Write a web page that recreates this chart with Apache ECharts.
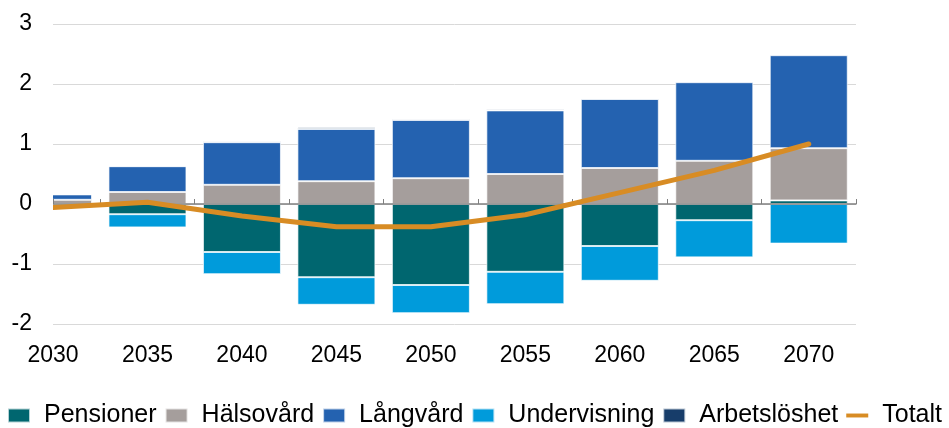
<!DOCTYPE html>
<html>
<head>
<meta charset="utf-8">
<script src="https://cdn.jsdelivr.net/npm/echarts@6/dist/echarts.min.js"></script>
<style>
  html, body { margin: 0; padding: 0; background: #fff; }
  #chart { width: 949px; height: 428px; }
</style>
</head>
<body>
<div id="chart"></div>
<script>
// år och delposter (procent av BNP)
const years = [2030, 2035, 2040, 2045, 2050, 2055, 2060, 2065, 2070];
const pensioner = [-0.05, -0.17, -0.80, -1.22, -1.35, -1.13, -0.70, -0.27, 0.06];
const halsovard = [0.07, 0.20, 0.32, 0.38, 0.43, 0.50, 0.60, 0.72, 0.87];
const langvard = [0.09, 0.43, 0.71, 0.87, 0.97, 1.06, 1.15, 1.31, 1.55];
const undervisning = [0, -0.22, -0.37, -0.46, -0.47, -0.54, -0.58, -0.62, -0.66];
const arbetsloshet = [0, 0.01, 0.02, 0.03, 0.02, 0.02, 0.01, 0, 0];
const totalt = [-0.06, 0.03, -0.20, -0.38, -0.38, -0.18, 0.19, 0.56, 1.0];

const colors = {
  pensioner: "#00666f",
  halsovard: "#a59e9c",
  langvard: "#2462b0",
  undervisning: "#009bdb",
  arbetsloshet: "#173d6a",
  totalt: "#d88c24",
};

const fontFamily = "Liberation Sans, Arial, sans-serif";

// [värde, år] så att staplingen sker på y-dimensionen
const pairs = (arr) => years.map((y, i) => [arr[i], y]);

const barSeries = function (name, arr, color) {
  return {
    name: name,
    type: "bar",
    stack: "total",
    xAxisIndex: 0,
    yAxisIndex: 0,
    barWidth: 78,
    encode: { x: 1, y: 0 },
    data: pairs(arr),
    itemStyle: {
      color: color,
      borderColor: "rgba(255,255,255,0.7)",
      borderWidth: 1,
    },
  };
};

const myChart = echarts.init(document.getElementById("chart"));

const option = {
  animation: false,
  textStyle: { fontFamily: fontFamily },
  grid: { left: 53, right: 93, top: 24, bottom: 104 },
  // maskar vänstra halvan av 2030-stapeln
  graphic: [
    {
      type: "rect",
      z: 11,
      shape: { x: 0, y: 0, width: 53, height: 332 },
      style: { fill: "#fff" },
    },
  ],
  legend: {
    bottom: 0,
    left: "center",
    width: 947,
    padding: 0,
    icon: "rect",
    itemWidth: 22,
    itemHeight: 14,
    itemGap: 8,
    textStyle: { fontSize: 25, color: "#000", padding: [0, 0, 0, 9] },
    data: [
      "Pensioner",
      "Hälsovård",
      "Långvård",
      "Undervisning",
      "Arbetslöshet",
      { name: "Totalt", icon: "path://M0,0H28V5H0Z" },
    ],
  },
  xAxis: [
    {
      // årtal
      type: "value",
      position: "bottom",
      min: 2030,
      max: 2072.5,
      interval: 5,
      axisLine: { show: false, onZero: false },
      axisTick: { show: false },
      splitLine: { show: false },
      axisLabel: {
        fontSize: 23,
        color: "#000",
        margin: 20,
        showMaxLabel: false,
        formatter: (v) => (v % 5 === 0 && v <= 2070 ? String(v) : ""),
      },
    },
    {
      // nollinje med streck mellan åren
      type: "value",
      position: "bottom",
      inverse: true,
      min: 2030,
      max: 2072.5,
      interval: 5,
      z: 5,
      axisLine: { show: true, onZero: true, lineStyle: { color: "#808080", width: 1.5 } },
      axisTick: { show: true, inside: true, length: 5, lineStyle: { color: "#808080" } },
      axisLabel: { show: false },
      splitLine: { show: false },
    },
  ],
  yAxis: [
    {
      type: "value",
      min: -2,
      max: 3,
      interval: 1,
      axisLine: { show: false },
      axisTick: { show: false },
      axisLabel: { show: false },
      splitLine: { lineStyle: { color: "#d9d9d9", width: 1 } },
    },
    {
      type: "value",
      position: "left",
      min: -2,
      max: 3,
      interval: 1,
      z: 12,
      axisLine: { show: false },
      axisTick: { show: false },
      splitLine: { show: false },
      axisLabel: { fontSize: 23, color: "#000", margin: 21 },
    },
  ],
  series: [
    barSeries("Pensioner", pensioner, colors.pensioner),
    barSeries("Hälsovård", halsovard, colors.halsovard),
    barSeries("Långvård", langvard, colors.langvard),
    barSeries("Undervisning", undervisning, colors.undervisning),
    barSeries("Arbetslöshet", arbetsloshet, colors.arbetsloshet),
    {
      name: "Totalt",
      type: "line",
      xAxisIndex: 0,
      yAxisIndex: 0,
      z: 10,
      symbol: "none",
      encode: { x: 1, y: 0 },
      data: pairs(totalt),
      lineStyle: { color: colors.totalt, width: 5, cap: "round" },
      itemStyle: { color: colors.totalt },
    },
  ],
};

myChart.setOption(option);
</script>
</body>
</html>
